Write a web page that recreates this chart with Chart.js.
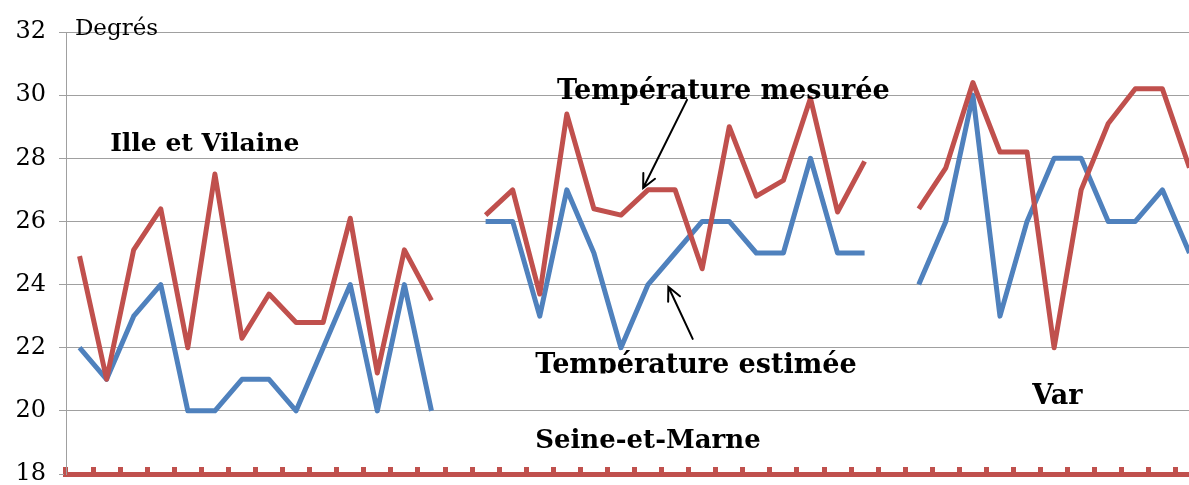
<!DOCTYPE html>
<html lang="fr">
<head>
<meta charset="utf-8">
<title>Température mesurée et estimée</title>
<script src="https://cdn.jsdelivr.net/npm/chart.js@4.4.1/dist/chart.umd.min.js"></script>
<style>
  html, body { margin: 0; padding: 0; background: #fff; overflow: hidden; }
  #wrap { position: relative; width: 1205px; height: 485px; }
</style>
</head>
<body>
<div id="wrap"><canvas id="tempChart"></canvas></div>
<script>
// Ille et Vilaine
const illeMesuree = [24.9, 21.0, 25.1, 26.4, 22.0, 27.5, 22.3, 23.7, 22.8, 22.8, 26.1, 21.2, 25.1, 23.5];
const illeEstimee = [22, 21, 23, 24, 20, 20, 21, 21, 20, 22, 24, 20, 24, 20];
// Seine-et-Marne
const seineMesuree = [26.2, 27.0, 23.7, 29.4, 26.4, 26.2, 27.0, 27.0, 24.5, 29.0, 26.8, 27.3, 29.9, 26.3, 27.9];
const seineEstimee = [26, 26, 23, 27, 25, 22, 24, 25, 26, 26, 25, 25, 28, 25, 25];
// Var
const varMesuree = [26.4, 27.7, 30.4, 28.2, 28.2, 22.0, 27.0, 29.1, 30.2, 30.2, 27.7];
const varEstimee = [24, 26, 30, 23, 26, 28, 28, 26, 26, 27, 25];

const yTicks = [18, 20, 22, 24, 26, 28, 30, 32];

const RED = '#C0504D';
const BLUE = '#4F81BD';
const GRID = '#a0a0a0';

// one category per station, an empty slot between departments
const regions = [
    ['Ille et Vilaine', illeMesuree, illeEstimee],
    ['Seine-et-Marne', seineMesuree, seineEstimee],
    ['Var', varMesuree, varEstimee]
];
const labels = [];
const mesuree = [];
const estimee = [];
regions.forEach(([name, mes, est], r) => {
    if (r > 0) {
        labels.push('');
        mesuree.push(null);
        estimee.push(null);
    }
    mes.forEach((v, i) => {
        labels.push(name + ' ' + (i + 1));
        mesuree.push(v);
        estimee.push(est[i]);
    });
});

// texts and arrows, placed in data coordinates (x = category index, y = degrees)
const notes = [
    { text: 'Degrés', x: -0.17, y: 31.9, font: '23px "DejaVu Serif"' },
    { text: 'Ille et Vilaine', x: 1.13, y: 28.23, font: 'bold 25px "DejaVu Serif"' },
    { text: 'Température mesurée', x: 17.64, y: 29.88, font: 'bold 27px "DejaVu Serif"' },
    { text: 'Température estimée', x: 16.83, y: 21.2, font: 'bold 27px "DejaVu Serif"', clipBelow: 21.18 },
    { text: 'Seine-et-Marne', x: 16.83, y: 18.82, font: 'bold 26px "DejaVu Serif"' },
    { text: 'Var', x: 35.19, y: 20.22, font: 'bold 27px "DejaVu Serif"' }
];
const arrows = [
    { from: [22.44, 29.85], to: [20.82, 27.06] },
    { from: [22.65, 22.28], to: [21.75, 23.93] }
];

const notesPlugin = {
    id: 'notes',
    afterDatasetsDraw(chart) {
        const { ctx, scales: { x, y } } = chart;
        ctx.save();
        ctx.fillStyle = '#000';
        ctx.textAlign = 'left';
        ctx.textBaseline = 'alphabetic';
        notes.forEach(n => {
            ctx.save();
            if (n.clipBelow != null) {
                ctx.beginPath();
                ctx.rect(0, 0, chart.width, y.getPixelForValue(n.clipBelow));
                ctx.clip();
            }
            ctx.font = n.font;
            ctx.fillText(n.text, x.getPixelForValue(n.x), y.getPixelForValue(n.y));
            ctx.restore();
        });

        ctx.strokeStyle = '#000';
        ctx.lineWidth = 2;
        ctx.lineCap = 'round';
        arrows.forEach(a => {
            const x1 = x.getPixelForValue(a.from[0]), y1 = y.getPixelForValue(a.from[1]);
            const x2 = x.getPixelForValue(a.to[0]), y2 = y.getPixelForValue(a.to[1]);
            const ang = Math.atan2(y2 - y1, x2 - x1);
            const head = 15;
            ctx.beginPath();
            ctx.moveTo(x1, y1);
            ctx.lineTo(x2, y2);
            ctx.moveTo(x2 - head * Math.cos(ang - 0.45), y2 - head * Math.sin(ang - 0.45));
            ctx.lineTo(x2, y2);
            ctx.lineTo(x2 - head * Math.cos(ang + 0.45), y2 - head * Math.sin(ang + 0.45));
            ctx.stroke();
        });
        ctx.restore();
    }
};

new Chart(document.getElementById('tempChart'), {
    type: 'line',
    data: {
        labels: labels,
        datasets: [
            {
                label: 'Température mesurée',
                data: mesuree,
                borderColor: RED,
                backgroundColor: RED,
                borderWidth: 5,
                borderJoinStyle: 'round',
                pointRadius: 0,
                tension: 0,
                spanGaps: false
            },
            {
                label: 'Température estimée',
                data: estimee,
                borderColor: BLUE,
                backgroundColor: BLUE,
                borderWidth: 5,
                borderJoinStyle: 'round',
                pointRadius: 0,
                tension: 0,
                spanGaps: false
            }
        ]
    },
    options: {
        responsive: true,
        maintainAspectRatio: false,
        animation: false,
        layout: { padding: { top: 32, right: 2, bottom: 0, left: 0 } },
        plugins: {
            legend: { display: false },
            tooltip: { enabled: false }
        },
        scales: {
            x: {
                type: 'category',
                offset: true,
                grid: {
                    offset: true,
                    drawOnChartArea: false,
                    drawTicks: true,
                    tickLength: -7,
                    color: RED,
                    lineWidth: 5
                },
                border: { display: true, color: RED, width: 5 },
                ticks: { display: false },
                afterFit: s => { s.height = 11; }
            },
            y: {
                min: 18,
                max: 32,
                afterBuildTicks: s => { s.ticks = yTicks.map(v => ({ value: v })); },
                grid: { color: GRID, lineWidth: 1, tickLength: 7 },
                border: { display: true, color: GRID, width: 1 },
                ticks: {
                    color: '#000',
                    font: { family: 'DejaVu Serif', size: 24 },
                    padding: 13
                },
                afterFit: s => {
                    s.width = 66;
                    s.paddingTop = 0;
                    s.paddingBottom = 0;
                }
            }
        }
    },
    plugins: [notesPlugin]
});
</script>
</body>
</html>
